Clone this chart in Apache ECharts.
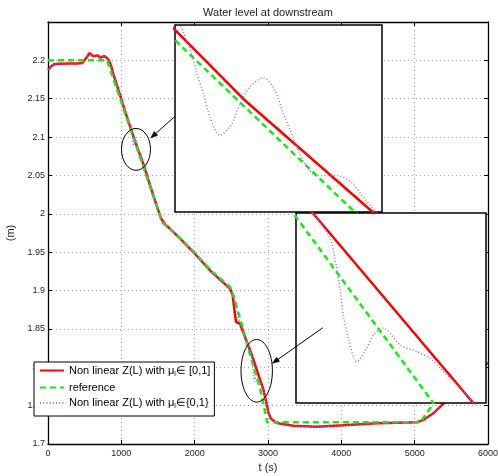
<!DOCTYPE html>
<html><head><meta charset="utf-8">
<script src="https://cdn.jsdelivr.net/npm/echarts@6/dist/echarts.min.js"></script>
<style>html,body{margin:0;padding:0;background:#fff}#c{width:498px;height:476px}</style>
</head><body><div id="c"></div>
<script>
// ---------- data ----------
const titleText = 'Water level at downstream';
const xName = 't (s)';
const yName = '(m)';
const xRange = [0, 6000];
const xStep = 1000;
const yRange = [1.7, 2.25];
const yStep = 0.05;

const seriesNames = ['nl_cont', 'reference', 'nl_bin'];
const legendLabels = [
  '{n|Non linear Z(L) with μ}{s|l}{n|∈ [0,1]}',
  '{n|reference}',
  '{n|Non linear Z(L) with μ}{s|l}{n|∈{0,1}}'
];

// Non linear Z(L) with mu in [0,1]  (red)
const redLine = [
  [0,2.188],[40,2.192],[82,2.195],[150,2.1955],[300,2.1958],[400,2.196],[468,2.1965],
  [520,2.203],[568,2.2095],[618,2.2052],[673,2.2065],[718,2.2035],[764,2.2056],[800,2.2035],
  [830,2.2],[860,2.193],[900,2.179],[991,2.152],[1060,2.131],[1140,2.1081],[1184,2.0951],
  [1264.5,2.0745],[1314,2.061],[1437,2.0235],[1541,1.994],[1600,1.986],[1709,1.9765],
  [1800,1.968],[1982,1.95],[2232,1.924],[2482,1.9027],[2518,1.894],[2545,1.872],[2564,1.859],
  [2618,1.857],[2767.6,1.819],[2936.6,1.771],[2970,1.757],[3005,1.741],[3040,1.733],
  [3118,1.7275],[3345,1.7238],[3664,1.7226],[4027,1.7243],[4482,1.727],[5027,1.7283],
  [5118,1.7312],[5255,1.74],[5369,1.7508],[6000,1.806]
];

// reference (green dashed)
const greenLine = [
  [0,2.2],[805,2.2],[1560,1.9886],[1709,1.977],[1982,1.951],[2232,1.925],[2480,1.905],
  [2530,1.893],[2664,1.8484],[2749.7,1.8181],[2894.5,1.771],[2990,1.7283],[5073,1.7283],
  [5164,1.74],[5255,1.753],[5900,1.85]
];

// Non linear Z(L) with mu in {0,1} (purple dotted)
const purpleLine = [
  [0,2.188],[40,2.192],[82,2.195],[150,2.1955],[300,2.1958],[400,2.196],[468,2.1965],
  [520,2.203],[568,2.2095],[618,2.2052],[673,2.2065],[718,2.2035],[764,2.2056],[800,2.2035],
  [830,2.2],[860,2.193],[900,2.179],[991,2.152],[1060,2.131],[1100,2.1212],[1143.1,2.109],
  [1146.3,2.1068],[1150.5,2.1038],[1153.6,2.1002],[1157.8,2.0964],[1162,2.092],[1168.3,2.0887],
  [1175.6,2.0908],[1180.8,2.0945],[1187.1,2.0976],[1195.5,2.0993],[1202.8,2.097],[1208,2.0927],
  [1214.3,2.0883],[1220.6,2.084],[1229,2.0813],[1241.5,2.0813],[1249.9,2.0803],[1258.3,2.0773],
  [1266.7,2.0745],[1314,2.061],[1437,2.0235],[1541,1.994],[1600,1.986],[1709,1.9765],
  [1800,1.968],[1982,1.95],[2232,1.924],[2482,1.9027],[2530,1.893],[2560,1.882],[2590,1.866],
  [2630,1.856],[2700,1.838],[2767.9,1.819],[2785.8,1.8126],[2790.3,1.8084],[2796.3,1.7999],
  [2799.8,1.7932],[2805.1,1.7873],[2813.9,1.7814],[2824.4,1.7848],[2831.4,1.7882],
  [2841.9,1.7899],[2859.5,1.7857],[2877,1.784],[2891,1.7823],[2901.6,1.7798],[2936.6,1.771],
  [2970,1.757],[3005,1.741],[3040,1.733],[3118,1.7275],[3345,1.7238],[3664,1.7226],
  [4027,1.7243],[4482,1.727],[5027,1.7283],[5118,1.7312],[5255,1.74],[5369,1.7508],[6000,1.806]
];

// zoomed windows (data ranges)
const inset1X = [1140, 1270];
const inset1Y = [2.0746, 2.109];
const inset2X = [2750, 2950];
const inset2Y = [1.771, 1.819];

// annotations (data coords)
const ellipses = [
  {center: [1200, 2.084], rx: 198, ry: 0.0273},
  {center: [2846, 1.7954], rx: 214, ry: 0.0408}
];
const arrows = [
  {from: [1732, 2.1271], to: [1400.5, 2.0988]},
  {from: [3746, 1.8514], to: [3059, 1.8051]}
];

// ---------- styles ----------
const FONT = 'Liberation Sans, Arial, Helvetica, sans-serif';
const lineStyles = [
  {color: '#ff0000', width: 2.5, type: 'solid', smooth: false},
  {color: '#11ee11', width: 2.5, type: [6, 4], smooth: false},
  {color: '#9a6cf0', width: 1.5, type: [1, 2.2], smooth: 0.3}
];
const datasets = [redLine, greenLine, purpleLine];

function mkSeries(name, data, st, axisIdx, z) {
  return {
    type: 'line', name: name, data: data,
    xAxisIndex: axisIdx, yAxisIndex: axisIdx,
    symbol: 'none', showSymbol: false, animation: false, silent: true,
    clip: true, z: z, smooth: st.smooth,
    lineStyle: {color: st.color, width: st.width, type: st.type},
    itemStyle: {color: st.color}
  };
}

const series = [];
[0, 2, 3].forEach(function (ax, k) {
  for (let i = 0; i < 3; i++) {
    const nm = k === 0 ? seriesNames[i] : (seriesNames[i] + '_inset' + k);
    series.push(mkSeries(nm, datasets[i], lineStyles[i], ax, k === 0 ? 2 + i * 0.1 : 11 + i * 0.1));
  }
});

const mainAxisCommon = {
  type: 'value', gridIndex: 0,
  axisLine: {show: true, onZero: false, lineStyle: {color: '#000', width: 1.3}},
  axisTick: {show: true, inside: true, length: 4, lineStyle: {color: '#000', width: 1}},
};
function hiddenAxis(grid, range) {
  return {type: 'value', gridIndex: grid, min: range[0], max: range[1],
    axisLine: {show: false}, axisTick: {show: false}, axisLabel: {show: false}, splitLine: {show: false}};
}
const fmtY = function (v) { return String(+v.toFixed(2)); };
const fmtX = function (v) { return String(Math.round(v)); };

const option = {
  animation: false,
  backgroundColor: '#fff',
  textStyle: {fontFamily: FONT},
  title: {
    text: titleText, left: 263, top: 2, textAlign: 'center',
    textStyle: {fontSize: 11, fontWeight: 'normal', color: '#222', fontFamily: FONT}
  },
  grid: [
    {left: 48, right: 10, top: 22, bottom: 32, outerBoundsMode: 'none', containLabel: false},
    {left: 175, top: 25, width: 207, height: 187, show: true, backgroundColor: '#fff',
      borderColor: '#000', borderWidth: 1.5, z: 10, outerBoundsMode: 'none'},
    {left: 296, top: 213, width: 190, height: 190, show: true, backgroundColor: '#fff',
      borderColor: '#000', borderWidth: 1.5, z: 10, outerBoundsMode: 'none'}
  ],
  xAxis: [
    Object.assign({}, mainAxisCommon, {
      position: 'bottom', min: xRange[0], max: xRange[1], interval: xStep,
      axisLabel: {fontSize: 9, color: '#222', margin: 5, fontFamily: FONT, formatter: fmtX},
      splitLine: {show: true, lineStyle: {color: '#a8a8a8', type: [1, 3], width: 1}},
      name: xName, nameLocation: 'middle', nameGap: 14,
      nameTextStyle: {fontSize: 11, color: '#222', fontFamily: FONT}
    }),
    Object.assign({}, mainAxisCommon, {
      position: 'top', min: xRange[0], max: xRange[1], interval: xStep,
      axisLabel: {show: false}, splitLine: {show: false}
    }),
    hiddenAxis(1, inset1X),
    hiddenAxis(2, inset2X)
  ],
  yAxis: [
    Object.assign({}, mainAxisCommon, {
      position: 'left', min: yRange[0], max: yRange[1], interval: yStep,
      axisLabel: {fontSize: 9, color: '#222', margin: 3, fontFamily: FONT, formatter: fmtY, showMaxLabel: false},
      splitLine: {show: true, lineStyle: {color: '#a8a8a8', type: [1, 3], width: 1}},
      name: yName, nameLocation: 'middle', nameGap: 28,
      nameTextStyle: {fontSize: 11, color: '#222', fontFamily: FONT}
    }),
    Object.assign({}, mainAxisCommon, {
      position: 'right', min: yRange[0], max: yRange[1], interval: yStep,
      axisLabel: {show: false}, splitLine: {show: false}
    }),
    hiddenAxis(1, inset1Y),
    hiddenAxis(2, inset2Y)
  ],
  legend: {
    data: seriesNames, orient: 'vertical', left: 34, top: 362,
    itemWidth: 24, itemHeight: 10, itemGap: 4.5,
    padding: [3, 4, 6, 5], backgroundColor: '#fff', borderColor: '#000', borderWidth: 1, borderRadius: 0,
    selectedMode: false, z: 20,
    itemStyle: {opacity: 0},
    formatter: function (name) { return legendLabels[seriesNames.indexOf(name)]; },
    textStyle: {
      fontFamily: FONT, fontSize: 11, color: '#000',
      rich: {
        n: {fontFamily: FONT, fontSize: 11, color: '#000', lineHeight: 14, verticalAlign: 'middle'},
        s: {fontFamily: FONT, fontSize: 7, color: '#000', lineHeight: 5, verticalAlign: 'bottom'}
      }
    }
  },
  series: series
};

const chart = echarts.init(document.getElementById('c'), null, {renderer: 'canvas'});
chart.setOption(option);

// annotations positioned via the main grid's scales
function px(p) { return chart.convertToPixel({gridIndex: 0}, p); }
const graphics = [];
ellipses.forEach(function (e) {
  const c = px(e.center);
  const r1 = px([e.center[0] + e.rx, e.center[1]]);
  const r2 = px([e.center[0], e.center[1] + e.ry]);
  graphics.push({
    type: 'ellipse', z: 30, silent: true,
    shape: {cx: c[0], cy: c[1], rx: Math.abs(r1[0] - c[0]), ry: Math.abs(r2[1] - c[1])},
    style: {fill: 'none', stroke: '#000', lineWidth: 1}
  });
});
arrows.forEach(function (a) {
  const p0 = px(a.from), p1 = px(a.to);
  const dx = p1[0] - p0[0], dy = p1[1] - p0[1];
  const L = Math.sqrt(dx * dx + dy * dy);
  const ux = dx / L, uy = dy / L, nx = -uy, ny = ux;
  const hl = 7, hw = 2.6;
  graphics.push({
    type: 'line', z: 30, silent: true,
    shape: {x1: p0[0], y1: p0[1], x2: p1[0] - ux * 3, y2: p1[1] - uy * 3},
    style: {stroke: '#000', lineWidth: 1}
  });
  graphics.push({
    type: 'polygon', z: 30, silent: true,
    shape: {points: [[p1[0], p1[1]],
      [p1[0] - ux * hl + nx * hw, p1[1] - uy * hl + ny * hw],
      [p1[0] - ux * hl - nx * hw, p1[1] - uy * hl - ny * hw]]},
    style: {fill: '#000', stroke: '#000', lineWidth: 0.5}
  });
});
chart.setOption({graphic: graphics});
</script>
</body></html>
